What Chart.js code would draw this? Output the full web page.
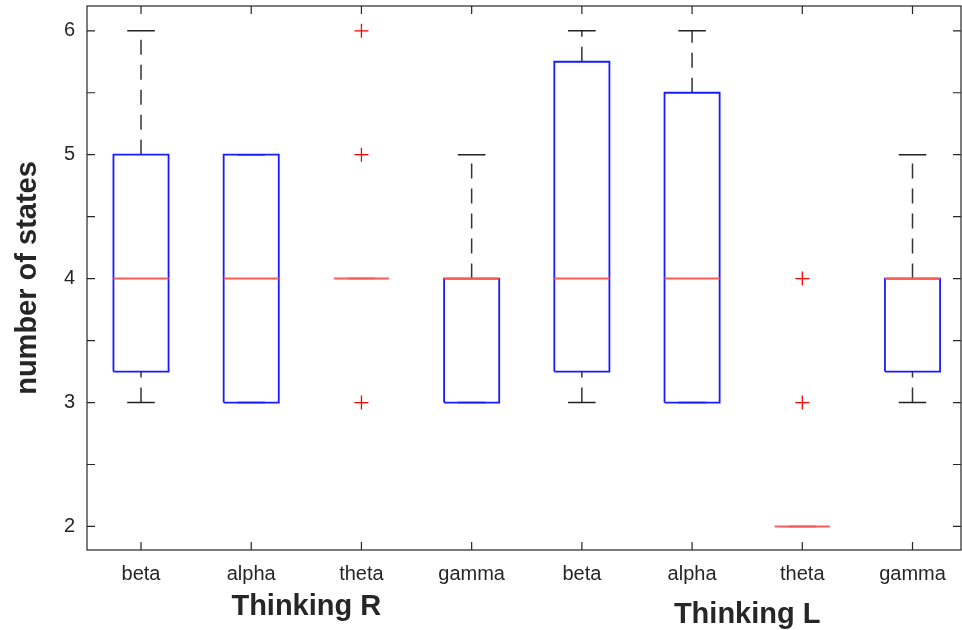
<!DOCTYPE html>
<html>
<head>
<meta charset="utf-8">
<script src="https://cdn.jsdelivr.net/npm/chart.js@4.4.1/dist/chart.umd.min.js"></script>
<style>
  html, body { margin: 0; padding: 0; background: #fff; }
  #wrap { width: 962px; height: 630px; position: relative; }
</style>
</head>
<body>
<div id="wrap"><canvas id="boxChart"></canvas></div>
<script>
// data
const categories = ['beta', 'alpha', 'theta', 'gamma', 'beta', 'alpha', 'theta', 'gamma'];
const groupNames = ['Thinking R', 'Thinking L'];
const groupOf = [0, 0, 0, 0, 1, 1, 1, 1];
const whiskerLow = [3, 3, 4, 3, 3, 3, 2, 3];
const q1 = [3.25, 3, 4, 3, 3.25, 3, 2, 3.25];
const medians = [4, 4, 4, 4, 4, 4, 2, 4];
const q3 = [5, 5, 4, 4, 5.75, 5.5, 2, 4];
const whiskerHigh = [6, 5, 4, 5, 6, 6, 2, 5];
const outliers = [[], [], [3, 5, 6], [], [], [], [3, 4], []];
const yTicks = [2, 2.5, 3, 3.5, 4, 4.5, 5, 5.5, 6];

const BOX_HALF = 0.25;
const CAP_HALF = 0.125;
const FONT = "'Liberation Sans', Arial, Helvetica, sans-serif";
const TEXT = '#262626';

// build line segments (gaps separate them)
const whiskerPts = [], capPts = [], boxPts = [], medianPts = [], outlierPts = [];
categories.forEach((c, i) => {
    const x = i + 1;
    whiskerPts.push({x: x, y: whiskerLow[i]}, {x: x, y: q1[i]}, {x: x, y: null});
    whiskerPts.push({x: x, y: q3[i]}, {x: x, y: whiskerHigh[i]}, {x: x, y: null});
    capPts.push({x: x - CAP_HALF, y: whiskerLow[i]}, {x: x + CAP_HALF, y: whiskerLow[i]}, {x: x, y: null});
    capPts.push({x: x - CAP_HALF, y: whiskerHigh[i]}, {x: x + CAP_HALF, y: whiskerHigh[i]}, {x: x, y: null});
    if (q3[i] > q1[i]) {
        boxPts.push(
            {x: x - BOX_HALF, y: q1[i]}, {x: x + BOX_HALF, y: q1[i]},
            {x: x + BOX_HALF, y: q3[i]}, {x: x - BOX_HALF, y: q3[i]},
            {x: x - BOX_HALF, y: q1[i]}, {x: x, y: null});
    }
    medianPts.push({x: x - BOX_HALF, y: medians[i]}, {x: x + BOX_HALF, y: medians[i]}, {x: x, y: null});
    outliers[i].forEach(v => outlierPts.push({x: x, y: v}));
});

function lineSet(data, color, width, dash, order) {
    return {
        type: 'scatter',
        data: data,
        showLine: true,
        spanGaps: false,
        borderColor: color,
        borderWidth: width,
        borderDash: dash,
        pointRadius: 0,
        fill: false,
        tension: 0,
        order: order
    };
}

// axes box, inward ticks on all sides, group labels
const matlabAxes = {
    id: 'matlabAxes',
    afterDatasetsDraw(chart) {
        const {ctx, chartArea: a, scales: {x, y}} = chart;
        const tl = 8;
        ctx.save();
        ctx.strokeStyle = TEXT;
        ctx.lineWidth = 1.2;
        ctx.strokeRect(a.left, a.top, a.right - a.left, a.bottom - a.top);
        ctx.beginPath();
        y.ticks.forEach(t => {
            const py = y.getPixelForValue(t.value);
            ctx.moveTo(a.left, py); ctx.lineTo(a.left + tl, py);
            ctx.moveTo(a.right, py); ctx.lineTo(a.right - tl, py);
        });
        x.ticks.forEach(t => {
            const px = x.getPixelForValue(t.value);
            ctx.moveTo(px, a.bottom); ctx.lineTo(px, a.bottom - tl);
            ctx.moveTo(px, a.top); ctx.lineTo(px, a.top + tl);
        });
        ctx.stroke();

        ctx.fillStyle = TEXT;
        ctx.font = 'bold 29px ' + FONT;
        ctx.textAlign = 'center';
        ctx.textBaseline = 'alphabetic';
        const labelOffset = [65, 73];
        groupNames.forEach((g, gi) => {
            const idx = groupOf.map((v, i) => v === gi ? i + 1 : null).filter(v => v !== null);
            const mid = (idx[0] + idx[idx.length - 1]) / 2;
            ctx.fillText(g, x.getPixelForValue(mid), a.bottom + labelOffset[gi]);
        });
        ctx.restore();
    }
};

new Chart(document.getElementById('boxChart'), {
    type: 'scatter',
    data: {
        datasets: [
            lineSet(whiskerPts, '#333333', 1.5, [15, 10], 5),
            lineSet(capPts, '#222222', 1.5, [], 4),
            lineSet(boxPts, '#1a1aff', 1.8, [], 3),
            lineSet(medianPts, '#ff5a5a', 2, [], 2),
            {
                type: 'scatter',
                data: outlierPts,
                pointStyle: 'cross',
                pointRadius: 7,
                pointBorderColor: '#ff0000',
                pointBorderWidth: 1.3,
                pointBackgroundColor: '#ff0000',
                order: 1
            }
        ]
    },
    options: {
        responsive: true,
        maintainAspectRatio: false,
        animation: false,
        layout: { autoPadding: false, padding: { top: 6, right: 1, left: 0, bottom: 0 } },
        plugins: {
            legend: { display: false },
            tooltip: { enabled: false }
        },
        scales: {
            x: {
                type: 'linear',
                min: 0.51,
                max: 8.44,
                afterBuildTicks: s => { s.ticks = categories.map((c, i) => ({value: i + 1})); },
                afterFit: s => { s.height = 80; s.paddingLeft = 0; s.paddingRight = 0; },
                grid: { display: false, drawTicks: false },
                border: { display: false },
                ticks: {
                    autoSkip: false,
                    maxRotation: 0,
                    padding: 12,
                    color: TEXT,
                    font: { family: FONT, size: 20 },
                    callback: v => categories[v - 1]
                }
            },
            y: {
                type: 'linear',
                min: 1.81,
                max: 6.2,
                afterBuildTicks: s => { s.ticks = yTicks.map(v => ({value: v})); },
                afterFit: s => { s.width = 87; s.paddingTop = 0; s.paddingBottom = 0; },
                grid: { display: false, drawTicks: false },
                border: { display: false },
                ticks: {
                    autoSkip: false,
                    padding: 12,
                    color: TEXT,
                    font: { family: FONT, size: 20 },
                    callback: v => Number.isInteger(v) ? String(v) : ''
                },
                title: {
                    display: true,
                    text: 'number of states',
                    color: TEXT,
                    font: { family: FONT, size: 29, weight: 'bold' },
                    padding: { top: 11, bottom: 0 }
                }
            }
        }
    },
    plugins: [matlabAxes]
});
</script>
</body>
</html>
